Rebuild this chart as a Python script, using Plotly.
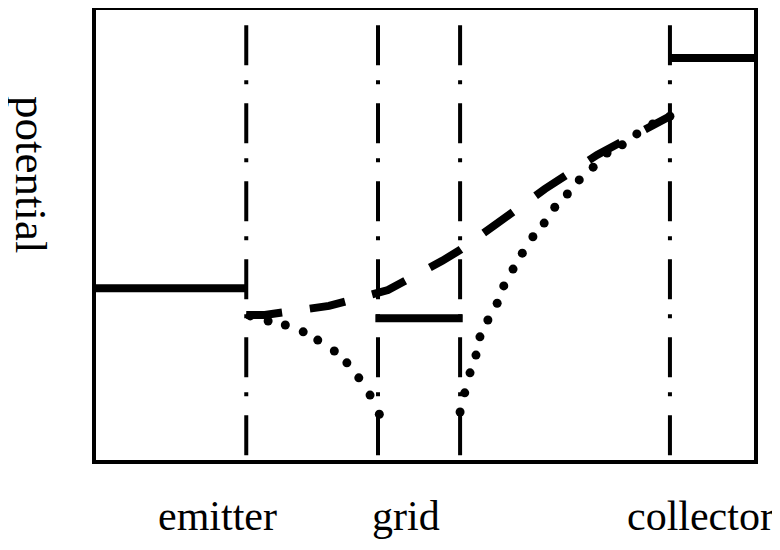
import plotly.graph_objects as go

# Electrode positions (arbitrary distance units along the tube)
emitter_x = 23.0
grid_left_x = 42.9
grid_right_x = 55.3
collector_x = 87.0
x_end = 100.0
electrode_lines_x = [emitter_x, grid_left_x, grid_right_x, collector_x]
line_top = 96.0

# Electrode potential levels
emitter_level = 38.2
grid_level = 31.6
collector_level = 88.8

# Dashed potential profile (no space charge)
dash_x = [23.0, 25.8, 35.5, 42.9, 44.4, 52.6, 55.3, 60.4, 68.1, 76.0, 84.6, 87.0]
dash_y = [32.3, 32.3, 34.3, 36.9, 37.8, 44.2, 46.6, 51.9, 60.0, 67.5, 73.8, 76.0]

# Dotted potential profile (with space charge)
dot_left_x = [23.6, 26.3, 28.9, 31.6, 33.8, 36.3, 38.2, 40.0, 41.7, 43.1]
dot_left_y = [32.1, 31.0, 30.1, 28.6, 26.8, 24.4, 21.8, 18.5, 14.7, 10.5]
dot_right_x = [55.3, 56.0, 56.8, 57.7, 58.3, 59.5, 60.9, 61.9, 63.3, 64.7, 66.3,
               68.0, 69.6, 71.5, 73.3, 75.4, 77.5, 79.8, 82.0, 84.4, 87.0]
dot_right_y = [11.0, 15.2, 19.6, 23.5, 27.5, 31.2, 34.9, 38.7, 42.4, 45.9, 49.5,
               52.5, 56.0, 58.9, 62.0, 64.8, 67.9, 69.7, 72.1, 74.3, 76.0]

# Labels
electrode_labels = ["emitter", "grid", "collector"]
label_x = [18.6, 47.2, 91.6]
y_label = "potential"

fig = go.Figure()

# vertical dash-dot electrode lines
for xv in electrode_lines_x:
    fig.add_trace(go.Scatter(x=[xv, xv], y=[line_top, 0], mode="lines",
                             line=dict(color="black", width=4, dash="40px,15px,4px,19px"),
                             showlegend=False, hoverinfo="skip"))

# solid electrode levels
fig.add_trace(go.Scatter(x=[0, emitter_x], y=[emitter_level, emitter_level], mode="lines",
                         line=dict(color="black", width=8), showlegend=False))
fig.add_trace(go.Scatter(x=[grid_left_x - 0.4, grid_right_x + 0.4], y=[grid_level, grid_level], mode="lines",
                         line=dict(color="black", width=8), showlegend=False))
fig.add_trace(go.Scatter(x=[collector_x, x_end], y=[collector_level, collector_level], mode="lines",
                         line=dict(color="black", width=8), showlegend=False))

# dashed profile
fig.add_trace(go.Scatter(x=dash_x, y=dash_y, mode="lines",
                         line=dict(color="black", width=8, dash="36px,28px"), showlegend=False))

# dotted profile
fig.add_trace(go.Scatter(x=dot_left_x + dot_right_x, y=dot_left_y + dot_right_y, mode="markers",
                         marker=dict(color="black", size=9), showlegend=False))

for lab, lx in zip(electrode_labels, label_x):
    fig.add_annotation(x=lx, xref="x", y=-0.119, yref="paper", text=lab, showarrow=False,
                       xanchor="center", yanchor="middle",
                       font=dict(family="Liberation Serif", size=42, color="black"))

fig.add_annotation(x=-0.0952, xref="paper", y=0.632, yref="paper", text=y_label, showarrow=False,
                   textangle=90, xanchor="center", yanchor="middle",
                   font=dict(family="Liberation Serif", size=45, color="black"))

fig.add_shape(type="rect", xref="paper", yref="paper", x0=0, x1=1, y0=0, y1=1,
              line=dict(color="black", width=4), layer="above")

# The page body has an 8px default margin, so the figure is 8px smaller each way
fig.update_layout(
    width=772, height=542,
    margin=dict(l=86, r=24, t=0, b=88),
    paper_bgcolor="white", plot_bgcolor="white",
    xaxis=dict(range=[0, 100], visible=False, fixedrange=True),
    yaxis=dict(range=[0, 99.78], visible=False, fixedrange=True),
)

fig.write_html("out.html")
